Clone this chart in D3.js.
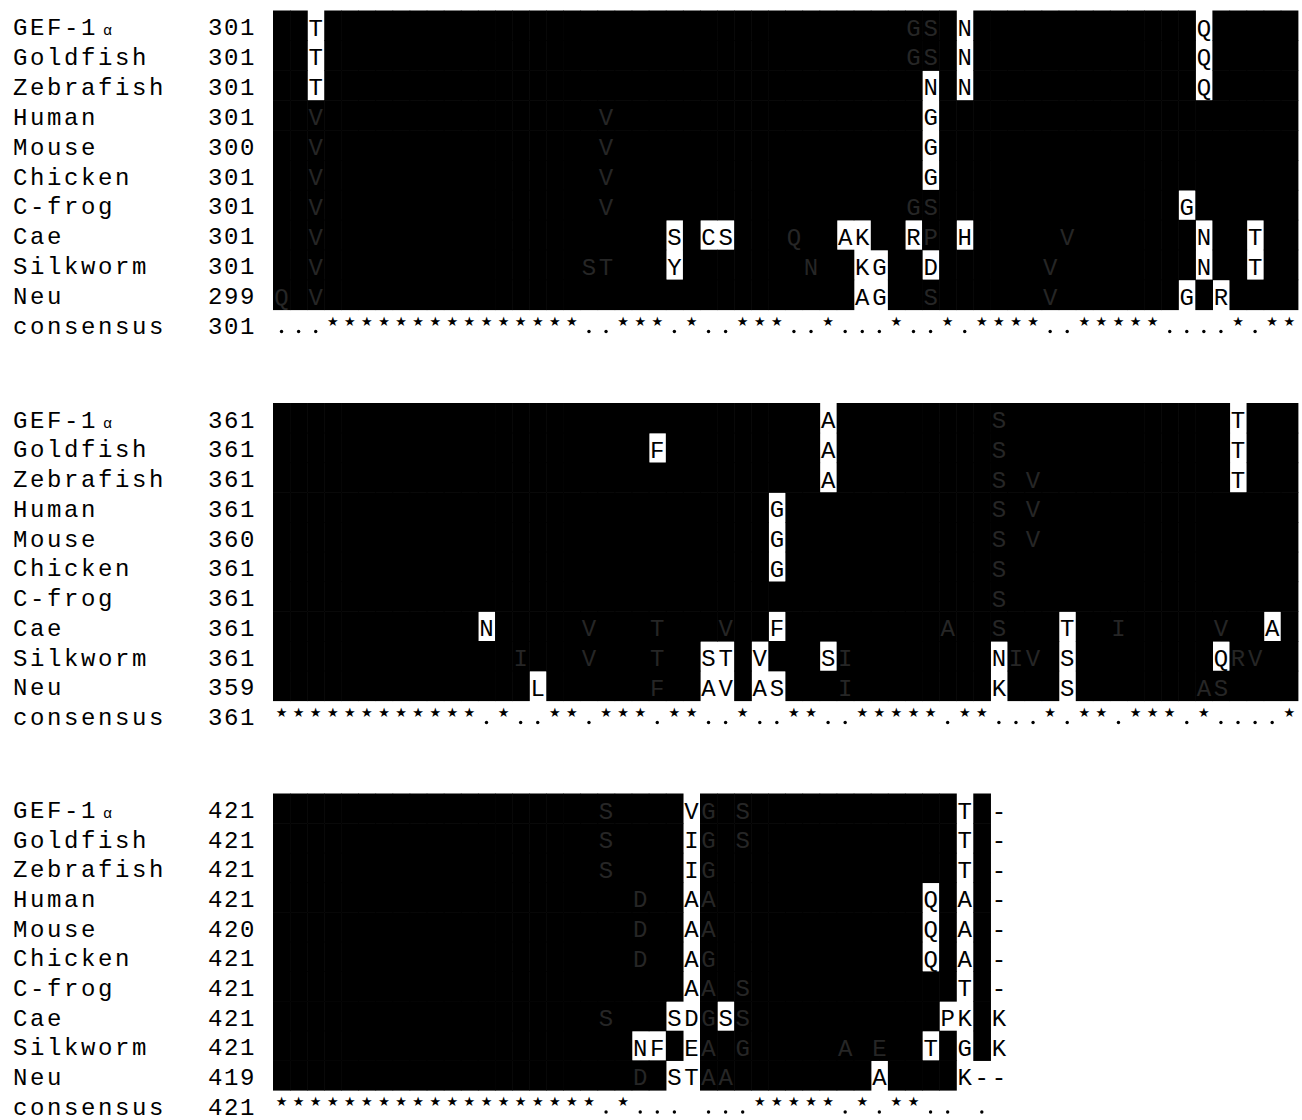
<!DOCTYPE html>
<html>
<head>
<meta charset="utf-8">
<script src="https://cdn.jsdelivr.net/npm/d3@7"></script>
<style>
  body { margin: 0; background: #fff; }
</style>
</head>
<body>
<div id="chart"></div>
<script>
/* Multiple sequence alignment (residues 301-462), boxed/shaded style.
 * Mark codes: UPPER = residue in a white box, lower = residue on black
 * (printed faintly), '-' = gap. Every other column of a block is black. */

var NAMES = ['GEF-1', 'Goldfish', 'Zebrafish', 'Human', 'Mouse', 'Chicken',
  'C-frog', 'Cae', 'Silkworm', 'Neu', 'consensus'];

var START_1 = [301, 301, 301, 301, 300, 301, 301, 301, 301, 299, 301];
var START_2 = [361, 361, 361, 361, 360, 361, 361, 361, 361, 359, 361];
var START_3 = [421, 421, 421, 421, 420, 421, 421, 421, 421, 419, 421];

var MARKS_1 = [
  '2T 37g 38s 40N 54Q',
  '2T 37g 38s 40N 54Q',
  '2T 38N 40N 54Q',
  '2v 19v 38G',
  '2v 19v 38G',
  '2v 19v 38G',
  '2v 19v 37g 38s 53G',
  '2v 23S 25C 26S 30q 33A 34K 37R 38p 40H 46v 54N 57T',
  '2v 18s 19t 23Y 31n 34K 35G 38D 45v 54N 57T',
  '0q 2v 34A 35G 38s 45v 53G 55R'
];
var MARKS_2 = [
  '32A 42s 56T',
  '22F 32A 42s 56T',
  '32A 42s 44v 56T',
  '29G 42s 44v',
  '29G 42s 44v',
  '29G 42s',
  '42s',
  '12N 18v 22t 26v 29F 39a 42s 46T 49i 55v 58A',
  '14i 18v 22t 25S 26T 28V 32S 33i 42N 43i 44v 46S 55Q 56r 57v',
  '15L 22f 25A 26V 28A 29S 33i 42K 46S 54a 55s'
];
var MARKS_3 = [
  '19s 24V 25g 27s 40T 42-',
  '19s 24I 25g 27s 40T 42-',
  '19s 24I 25g 40T 42-',
  '21d 24A 25a 38Q 40A 42-',
  '21d 24A 25a 38Q 40A 42-',
  '21d 24A 25g 38Q 40A 42-',
  '24A 25a 27s 40T 42-',
  '19s 23S 24D 25g 26S 27s 39P 40K 42K',
  '21N 22F 24E 25a 27g 33a 35e 38T 40G 42K',
  '21d 23S 24T 25a 26a 35A 40K 41- 42-'
];

var CONSENSUS_1 = '...' + '***************' + '..' + '***' + '.' + '*' + '..' + '***' +
  '..' + '*' + '...' + '*' + '..' + '*' + '.' + '****' + '..' + '*****' + '....' + '*' + '.' + '**';
var CONSENSUS_2 = '************' + '.' + '*' + '..' + '**' + '.' + '***' + '.' + '**' + '..' +
  '*' + '..' + '**' + '..' + '*****' + '.' + '**' + '...' + '*' + '.' + '**' + '.' + '***' +
  '.' + '*' + '....' + '*';
var CONSENSUS_3 = '*******************' + '.' + '*' + '...' + ' ' + '...' + '*****' + '.' +
  '*' + '.' + '**' + '..' + ' ' + '.';

var BLOCK_COLS = [60, 60, 42];

/* layout */
var W = 1302, H = 1120;
var COL_W = 17.08, LEFT = 273;
var ROW_H = [29.9, 29.75, 29.65];
var BLOCK_Y = [27.5, 420, 810.5];
var FONT = '"Liberation Mono", "Courier New", monospace';
var FAINT = '#262626';

var blocks = [
  {start: START_1, marks: MARKS_1, consensus: CONSENSUS_1, cols: BLOCK_COLS[0]},
  {start: START_2, marks: MARKS_2, consensus: CONSENSUS_2, cols: BLOCK_COLS[1]},
  {start: START_3, marks: MARKS_3, consensus: CONSENSUS_3, cols: BLOCK_COLS[2]}
];

var svg = d3.select('#chart').append('svg')
  .attr('width', W)
  .attr('height', H)
  .style('background', '#fff');

var x = d3.scaleBand()
  .domain(d3.range(60))
  .range([LEFT, LEFT + 60 * COL_W])
  .padding(0);

function parseMarks(str) {
  var out = {};
  str.split(' ').forEach(function(tok) {
    if (!tok) return;
    out[parseInt(tok, 10)] = tok.charAt(tok.length - 1);
  });
  return out;
}

function isBoxed(ch) {
  return ch === '-' || (ch !== ch.toLowerCase() && ch === ch.toUpperCase());
}

blocks.forEach(function(b, bi) {
  var rowH = ROW_H[bi];
  var y = d3.scalePoint()
    .domain(d3.range(11))
    .range([BLOCK_Y[bi], BLOCK_Y[bi] + 10 * rowH]);

  var g = svg.append('g').attr('class', 'block');

  /* ---- cells ---- */
  var cells = [];
  b.marks.forEach(function(str, r) {
    var m = parseMarks(str);
    var maxCol = b.cols;
    Object.keys(m).forEach(function(k) { if (+k + 1 > maxCol) maxCol = +k + 1; });
    for (var c = 0; c < maxCol; c++) {
      var ch = m[c];
      var black = c < b.cols && !(ch && isBoxed(ch));
      cells.push({row: r, col: c, black: black, ch: ch || null});
    }
  });

  g.append('g').selectAll('rect')
    .data(cells.filter(function(d) { return d.black; }))
    .join('rect')
    .attr('x', function(d) { return x(d.col); })
    .attr('y', function(d) { return y(d.row) - 17; })
    .attr('width', x.bandwidth() + 0.6)
    .attr('height', rowH + 0.6)
    .attr('fill', '#000');

  g.append('g').selectAll('text')
    .data(cells.filter(function(d) { return d.ch; }))
    .join('text')
    .attr('x', function(d) { return x(d.col) + x.bandwidth() / 2; })
    .attr('y', function(d) { return y(d.row) + 8; })
    .attr('text-anchor', 'middle')
    .style('font-family', FONT)
    .style('font-size', '24px')
    .attr('fill', function(d) { return d.black ? FAINT : '#000'; })
    .text(function(d) { return d.ch.toUpperCase(); });

  /* ---- consensus ---- */
  var cons = b.consensus.split('').map(function(ch, i) { return {col: i, ch: ch}; });
  var cy = y(10);

  g.append('g').selectAll('text')
    .data(cons.filter(function(d) { return d.ch === '*'; }))
    .join('text')
    .attr('x', function(d) { return x(d.col) + x.bandwidth() / 2; })
    .attr('y', cy - 1)
    .attr('text-anchor', 'middle')
    .style('font-family', '"DejaVu Sans", sans-serif')
    .style('font-size', '13px')
    .attr('fill', '#000')
    .text('\u2605');

  g.append('g').selectAll('circle')
    .data(cons.filter(function(d) { return d.ch === '.'; }))
    .join('circle')
    .attr('cx', function(d) { return x(d.col) + x.bandwidth() / 2; })
    .attr('cy', cy + 5)
    .attr('r', 1.7)
    .attr('fill', '#000');

  /* ---- row labels and start positions ---- */
  var labels = g.append('g').selectAll('text')
    .data(NAMES)
    .join('text')
    .attr('x', 13)
    .attr('y', function(d, i) { return y(i) + 7.5; })
    .style('font-family', FONT)
    .style('font-size', '24px')
    .style('letter-spacing', '2.6px')
    .attr('fill', '#000')
    .text(function(d) { return d; });

  labels.filter(function(d, i) { return i === 0; })
    .append('tspan')
    .attr('dx', 5)
    .style('font-size', '15px')
    .style('letter-spacing', '0px')
    .text('\u03b1');

  g.append('g').selectAll('text')
    .data(b.start)
    .join('text')
    .attr('x', 256)
    .attr('y', function(d, i) { return y(i) + 7.5; })
    .attr('text-anchor', 'end')
    .style('font-family', FONT)
    .style('font-size', '24px')
    .style('letter-spacing', '1.6px')
    .attr('fill', '#000')
    .text(function(d) { return d; });
});
</script>
</body>
</html>
